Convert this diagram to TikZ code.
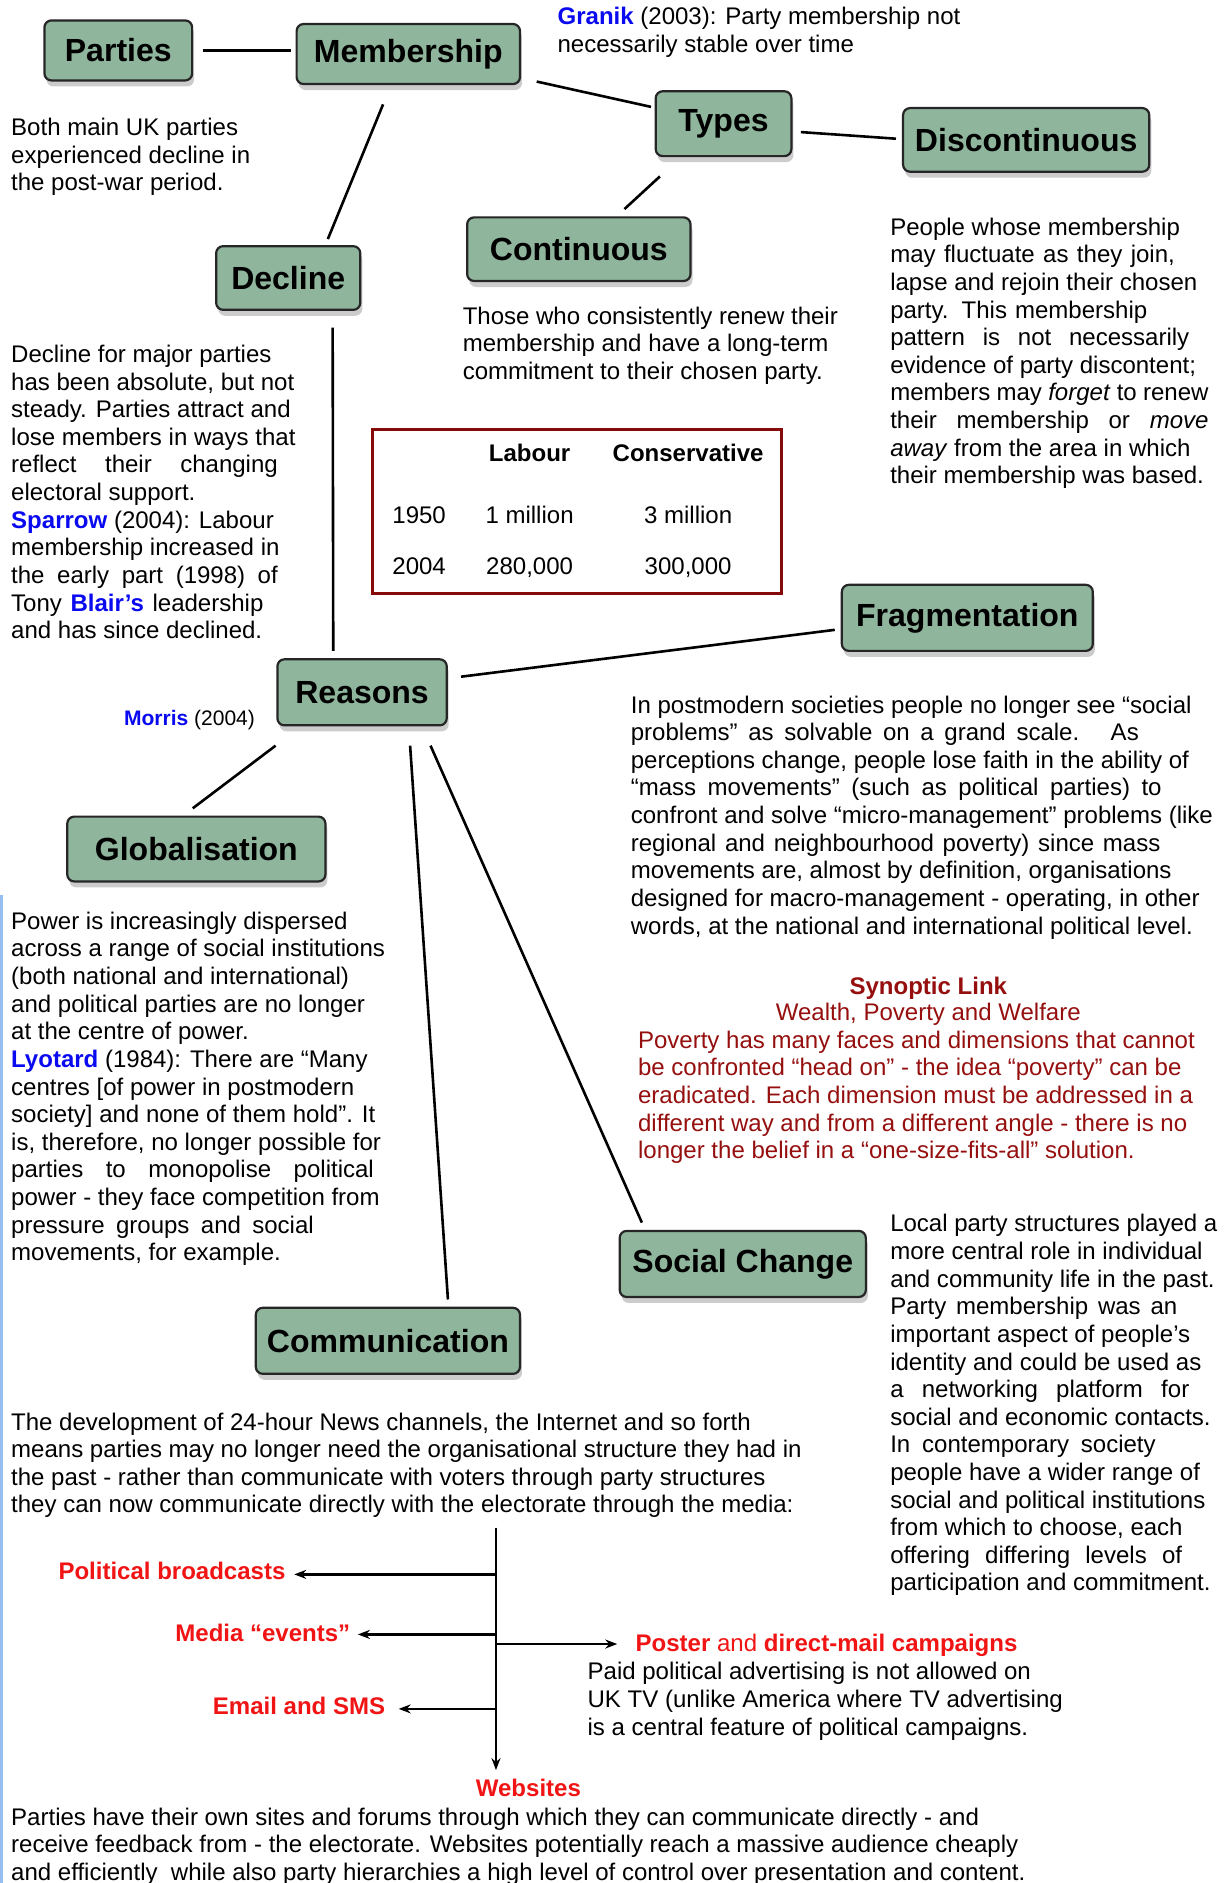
\documentclass[tikz,border=0pt]{standalone}
\usepackage{fontspec}
\setmainfont{Liberation Sans}
\usetikzlibrary{shadows,calc,arrows.meta}
\definecolor{boxgreen}{RGB}{143,181,157}
\definecolor{tabred}{RGB}{135,10,10}
\definecolor{synred}{RGB}{150,15,15}
\definecolor{lblred}{RGB}{240,20,20}
\definecolor{refblue}{RGB}{10,10,240}
\definecolor{edgeblue}{RGB}{150,190,240}
\newdimen\ux \ux=0.6pt
\newcommand\jl[2]{\makebox[#1\ux][s]{#2}}
\newcommand\bl[1]{\textcolor{refblue}{\textbf{#1}}}
\newcommand\mapnode[6]{\node[mapbox, minimum width=#4*0.6pt, minimum height=#5*0.6pt] (#1) at (#2,#3) {#6};}
\begin{document}
\begin{tikzpicture}[x=0.6pt,y=-0.6pt,
  mapbox/.style={draw=black!85, line width=1.1pt, rounded corners=3.5pt, fill=boxgreen,
    font=\fontsize{16}{19}\selectfont\bfseries, inner sep=0pt,
    drop shadow={shadow xshift=1pt, shadow yshift=-3pt, opacity=0.4}},
  link/.style={line width=1.3pt, black},
  arr/.style={line width=1.2pt, -{Stealth[length=6pt,width=4.5pt]}},
  txt/.style={anchor=north west, inner sep=0pt, align=left, font=\fontsize{12}{13.8}\selectfont},
  one/.style={inner sep=0pt, font=\fontsize{12}{13.8}\selectfont},
  lbl/.style={inner sep=0pt, font=\fontsize{12}{13.8}\selectfont\bfseries, text=lblred}]
\useasboundingbox (0,0) rectangle (1019,1568);
\fill[white] (0,0) rectangle (1019,1568);
\draw[edgeblue, line width=1.5pt] (1.5,745) -- (1.5,1568);

% boxes
\mapnode{parties}{98.5}{42}{123}{50}{Parties}
\mapnode{membership}{340}{45}{186}{50}{Membership}
\mapnode{types}{602.5}{103}{113}{54}{Types}
\mapnode{discont}{854.5}{116.5}{205}{53}{Discontinuous}
\mapnode{cont}{482}{207.5}{186}{53}{Continuous}
\mapnode{decline}{240}{231.5}{120}{53}{Decline}
\mapnode{reasons}{301.5}{576.5}{141}{55}{Reasons}
\mapnode{frag}{805.5}{514.5}{209}{55}{Fragmentation}
\mapnode{glob}{163.5}{707}{215}{54}{Globalisation}
\mapnode{social}{618.5}{1052.5}{205}{55}{Social Change}
\mapnode{comm}{323}{1116.5}{220}{55}{Communication}

% connectors
\draw[link] ($(parties.east)+(8,0)$) -- ($(membership.west)+(-4,-3)$);
\draw[link] ($(membership.south east)+(13,-3)$) -- ($(types.west)+(-3,-14)$);
\draw[link] ($(membership.south)+(-21,16)$) -- ($(decline.north)+(33,-5)$);
\draw[link] ($(types.east)+(7,7)$) -- ($(discont.west)+(-5,-1)$);
\draw[link] ($(types.south)+(-53,16)$) -- ($(cont.north)+(38,-6)$);
\draw[link] ($(decline.south)+(37,14)$) -- ($(reasons.north)+(-24,-6)$);
\draw[link] ($(reasons.east)+(11,-13)$) -- ($(frag.west)+(-5,10)$);
\draw[link] ($(reasons.south)+(-72,16)$) -- ($(glob.north)+(-3,-6)$);
\draw[link] ($(reasons.south)+(40,16)$) -- ($(comm.north)+(50,-6)$);
\draw[link] ($(reasons.south)+(57,16)$) -- ($(social.north)+(-84,-6)$);

% texts
\node[txt] (granik) at (464,6) {\bl{Granik} (2003): Party membership not\\necessarily stable over time};
\node[txt] (bothmain) at (9,98) {Both main UK parties\\experienced decline in\\the post-war period.};
\node[txt] (conttxt) at (385,255) {Those who consistently renew their\\membership and have a long-term\\commitment to their chosen party.};
\node[txt] (disctxt) at (741,181) {People whose membership\\
\jl{237}{may fluctuate as they join,}\\
lapse and rejoin their chosen\\
\jl{214}{party. This membership}\\
\jl{249}{pattern is not necessarily}\\
evidence of party discontent;\\
\jl{265}{members may \emph{forget} to renew}\\
\jl{265}{their membership or \emph{move}}\\
\emph{away} from the area in which\\
their membership was based.};
\node[txt] (declinetxt) at (9,287) {Decline for major parties\\
has been absolute, but not\\
steady. Parties attract and\\
lose members in ways that\\
\jl{222}{reflect their changing}\\
electoral support.\\
\bl{Sparrow} (2004): Labour\\
membership increased in\\
\jl{222}{the early part (1998) of}\\
\jl{210}{Tony \bl{Blair’s} leadership}\\
and has since declined.};

% table
\node[draw=tabred, line width=1.5pt, minimum width=341*0.6pt, minimum height=136*0.6pt, inner sep=0pt] (table) at (480.5,426) {};
\node[one, anchor=base, font=\fontsize{12}{13.8}\selectfont\bfseries] (hlab) at (441,384) {Labour};
\node[one, anchor=base, font=\fontsize{12}{13.8}\selectfont\bfseries] (hcon) at (573,384) {Conservative};
\node[one, anchor=base] (y1) at (349,436) {1950};
\node[one, anchor=base] (l1) at (441,436) {1 million};
\node[one, anchor=base] (c1) at (573,436) {3 million};
\node[one, anchor=base] (y2) at (349,478) {2004};
\node[one, anchor=base] (l2) at (441,478) {280,000};
\node[one, anchor=base] (c2) at (573,478) {300,000};

\node[inner sep=0pt, anchor=base west, font=\fontsize{10.5}{12}\selectfont] (morris) at (103,604) {\bl{Morris} (2004)};

\node[txt] (fragtxt) at (525,579) {In postmodern societies people no longer see “social\\
\jl{423}{problems” as solvable on a grand scale. \ As}\\
perceptions change, people lose faith in the ability of\\
\jl{442}{“mass movements” (such as political parties) to}\\
confront and solve “micro-management” problems (like\\
\jl{441}{regional and neighbourhood poverty) since mass}\\
movements are, almost by definition, organisations\\
designed for macro-management - operating, in other\\
words, at the national and international political level.};

\node[one, anchor=base, text=synred, font=\fontsize{12}{13.8}\selectfont\bfseries] (synhead) at (773,828) {Synoptic Link};
\node[one, anchor=base, text=synred] (synsub) at (773,850) {Wealth, Poverty and Welfare};
\node[txt, text=synred] (syntxt) at (531,858) {Poverty has many faces and dimensions that cannot\\
be confronted “head on” - the idea “poverty” can be\\
eradicated. Each dimension must be addressed in a\\
different way and from a different angle - there is no\\
longer the belief in a “one-size-fits-all” solution.};

\node[txt] (globtxt) at (9,759) {Power is increasingly dispersed\\
across a range of social institutions\\
(both national and international)\\
and political parties are no longer\\
at the centre of power.\\
\bl{Lyotard} (1984): There are “Many\\
centres [of power in postmodern\\
society] and none of them hold”. It\\
is, therefore, no longer possible for\\
\jl{302}{parties to monopolise political}\\
power - they face competition from\\
\jl{252}{pressure groups and social}\\
movements, for example.};

\node[txt] (socialtxt) at (741,1011) {Local party structures played a\\
more central role in individual\\
and community life in the past.\\
\jl{239}{Party membership was an}\\
important aspect of people’s\\
identity and could be used as\\
\jl{249}{a networking platform for}\\
social and economic contacts.\\
\jl{221}{In contemporary society}\\
people have a wider range of\\
social and political institutions\\
from which to choose, each\\
\jl{243}{offering differing levels of}\\
participation and commitment.};

\node[txt] (commtxt) at (9,1176) {The development of 24-hour News channels, the Internet and so forth\\
means parties may no longer need the organisational structure they had in\\
the past - rather than communicate with voters through party structures\\
they can now communicate directly with the electorate through the media:};

% media labels
\node[lbl, anchor=base east] (pb) at (238,1315) {Political broadcasts};
\node[lbl, anchor=base east] (me) at (292,1367) {Media “events”};
\node[lbl, anchor=base east] (em) at (321,1428) {Email and SMS};
\node[lbl, anchor=base west] (poster) at (529,1375) {Poster \mdseries and \bfseries direct-mail campaigns};
\node[lbl, anchor=base] (web) at (440,1496) {Websites};
\node[txt] (paidtxt) at (489,1384) {Paid political advertising is not allowed on\\UK TV (unlike America where TV advertising\\is a central feature of political campaigns.};
\node[txt] (webtxt) at (9,1505) {Parties have their own sites and forums through which they can communicate directly - and\\
receive feedback from - the electorate. Websites potentially reach a massive audience cheaply\\
and efficiently \ while also party hierarchies a high level of control over presentation and content.};

% media arrows
\coordinate (ttop) at (413,1272);
\coordinate (tbot) at (413,1474);
\coordinate (t1) at (413,1311);
\coordinate (t2) at (413,1361);
\coordinate (t3) at (413,1423);
\coordinate (t4) at (413,1369);
\draw[arr] (ttop) -- (tbot);
\draw[arr] (t1) -- ($(t1 -| pb.east)+(7,0)$);
\draw[arr] (t2) -- ($(t2 -| me.east)+(6,0)$);
\draw[arr] (t3) -- ($(t3 -| em.east)+(11,0)$);
\draw[arr, line width=1pt] (t4) -- ($(t4 -| poster.west)+(-15,0)$);
\end{tikzpicture}
\end{document}
